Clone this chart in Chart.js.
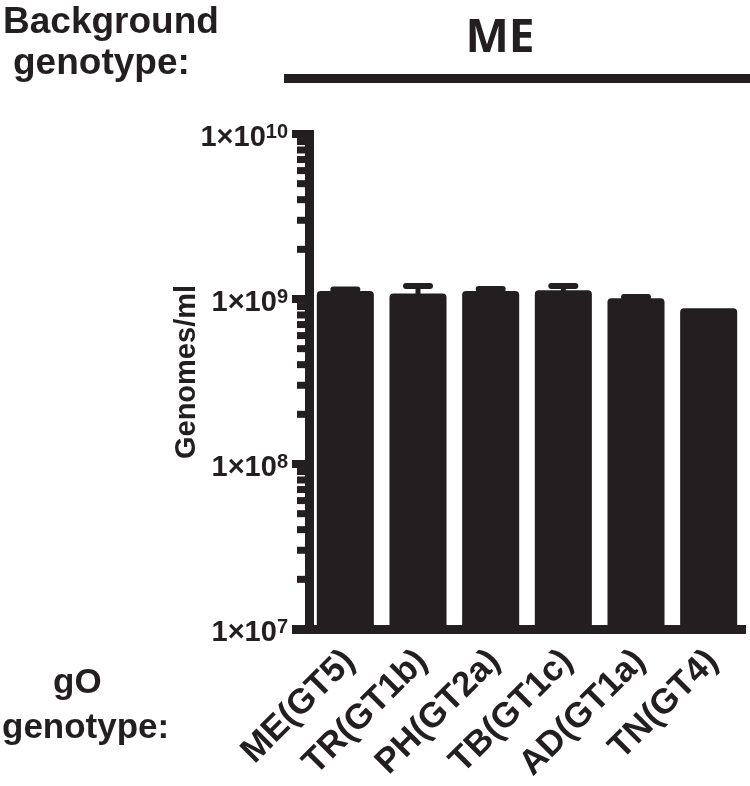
<!DOCTYPE html>
<html>
<head>
<meta charset="utf-8">
<script src="https://cdn.jsdelivr.net/npm/chart.js@4.4.0/dist/chart.umd.min.js"></script>
<style>
  body { margin: 0; background: #fff; }
  #wrap { width: 750px; height: 786px; }
</style>
</head>
<body>
<div id="wrap"><canvas id="genomeChart" width="750" height="786"></canvas></div>
<script>
// gO genotype categories (x axis)
const categories = ['ME(GT5)', 'TR(GT1b)', 'PH(GT2a)', 'TB(GT1c)', 'AD(GT1a)', 'TN(GT4)'];
// mean genomes/ml
const meanValues = [1.12e9, 1.08e9, 1.12e9, 1.13e9, 1.01e9, 0.88e9];
// upper end of the error bars
const errorTop = [1.14e9, 1.20e9, 1.15e9, 1.20e9, 1.03e9, 0.88e9];
// y axis decades
const majorTicks = [1e7, 1e8, 1e9, 1e10];
const majorExponents = ['7', '8', '9', '10'];
const minorSteps = [2, 3, 4, 5, 6, 7, 8, 9];

const INK = '#231f20';
const FONT = '"Liberation Sans", Arial, Helvetica, sans-serif';

// Draws everything the figure has that chart.js doesn't do by itself
const figureDecor = {
    id: 'figureDecor',
    afterDatasetsDraw(chart) {
        const ctx = chart.ctx;
        const yScale = chart.scales.y;
        const area = chart.chartArea;
        ctx.save();
        ctx.fillStyle = INK;
        ctx.strokeStyle = INK;

        // error bars (upper only)
        const meta = chart.getDatasetMeta(0);
        meta.data.forEach((bar, i) => {
            if (errorTop[i] <= meanValues[i]) return;
            const top = yScale.getPixelForValue(errorTop[i]);
            ctx.lineCap = 'butt';
            ctx.lineWidth = 5;
            ctx.beginPath();
            ctx.moveTo(bar.x, bar.y + 2);
            ctx.lineTo(bar.x, top);
            ctx.stroke();
            ctx.lineCap = 'round';
            ctx.lineWidth = 6;
            ctx.beginPath();
            ctx.moveTo(bar.x - 12, top);
            ctx.lineTo(bar.x + 12, top);
            ctx.stroke();
        });

        // axes
        const axisX = area.left;
        const yTop = yScale.getPixelForValue(majorTicks[majorTicks.length - 1]) - 4;
        ctx.fillRect(axisX - 4, yTop, 9, area.bottom + 5 - yTop);
        ctx.fillRect(axisX - 17, area.bottom - 4, area.right + 1 - (axisX - 17), 9);

        // minor ticks
        for (let d = 0; d < majorTicks.length - 1; d++) {
            minorSteps.forEach(m => {
                const py = yScale.getPixelForValue(majorTicks[d] * m);
                ctx.fillRect(axisX - 12, py - 3.5, 10, 7);
            });
        }

        // major ticks + labels
        majorTicks.forEach((v, i) => {
            const py = yScale.getPixelForValue(v);
            ctx.fillRect(axisX - 17, py - 4, 20, 8);
            ctx.textAlign = 'right';
            ctx.textBaseline = 'alphabetic';
            ctx.font = 'bold 20px ' + FONT;
            const supW = ctx.measureText(majorExponents[i]).width;
            ctx.fillText(majorExponents[i], axisX - 21, py + 4);
            ctx.font = 'bold 29px ' + FONT;
            ctx.fillText('1\u00d710', axisX - 21 - supW, py + 12);
        });

        // y title
        ctx.save();
        ctx.translate(187, 372);
        ctx.rotate(-Math.PI / 2);
        ctx.textAlign = 'center';
        ctx.textBaseline = 'middle';
        ctx.font = 'bold 29px ' + FONT;
        ctx.fillText('Genomes/ml', 0, 0);
        ctx.restore();

        // header
        ctx.textAlign = 'left';
        ctx.textBaseline = 'alphabetic';
        ctx.font = 'bold 37px ' + FONT;
        ctx.fillText('Background', 3, 33);
        ctx.fillText('genotype:', 13, 74);
        ctx.textAlign = 'center';
        ctx.font = 'bold 46px "Open Sans", sans-serif';
        ctx.fillText('ME', 500, 52);
        ctx.fillRect(284, 74, 466, 9);

        // x axis side label
        ctx.textAlign = 'left';
        ctx.font = 'bold 35px ' + FONT;
        ctx.fillText('gO', 53, 693);
        ctx.fillText('genotype:', 2, 738);
        ctx.restore();
    }
};

const chart = new Chart(document.getElementById('genomeChart'), {
    type: 'bar',
    data: {
        labels: categories,
        datasets: [{
            data: meanValues,
            backgroundColor: INK,
            borderRadius: 4,
            barPercentage: 0.785,
            categoryPercentage: 1
        }]
    },
    options: {
        responsive: false,
        animation: false,
        layout: { padding: { top: 134, right: 5, left: 0, bottom: 0 } },
        plugins: {
            legend: { display: false },
            tooltip: { enabled: false }
        },
        scales: {
            x: {
                grid: { display: false, drawTicks: false },
                border: { display: false },
                ticks: {
                    color: INK,
                    font: { family: FONT, size: 35, weight: 'bold' },
                    minRotation: 45,
                    maxRotation: 45,
                    autoSkip: false,
                    padding: 12,
                    labelOffset: 4
                },
                afterFit(scale) {
                    scale.height = 157;
                    scale.paddingLeft = 0;
                    scale.paddingRight = 0;
                }
            },
            y: {
                type: 'logarithmic',
                min: 1e7,
                max: 1e10,
                grid: { display: false, drawTicks: false },
                border: { display: false },
                ticks: { display: false },
                afterFit(scale) {
                    scale.width = 309;
                    scale.paddingTop = 0;
                    scale.paddingBottom = 0;
                }
            }
        }
    },
    plugins: [figureDecor]
});
</script>
</body>
</html>
